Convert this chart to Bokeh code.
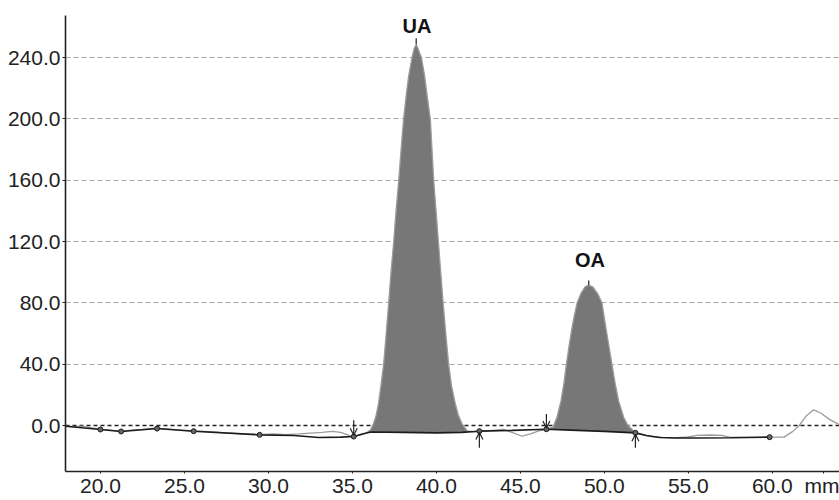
import numpy as np
from bokeh.plotting import figure
from bokeh.models import (FixedTicker, PrintfTickFormatter, Span, Arrow,
                          OpenHead, ColumnDataSource, Range1d)
from bokeh.embed import file_html
from bokeh.resources import INLINE
from bokeh.core.properties import value

# ---------------- data ----------------
signal_x = [17.95, 18.5, 19.0, 19.5, 20.0, 20.6, 21.2, 21.8, 22.5, 23.3, 24.0, 24.8,
            25.5, 26.5, 27.5, 28.5, 29.5, 30.3, 31.0, 31.8, 32.5, 33.2, 33.8, 34.3,
            34.8, 35.08, 35.4, 35.8,
            36.07, 36.25, 36.4, 36.55, 36.7, 36.86, 37.0, 37.16, 37.3, 37.46, 37.6,
            37.76, 37.9, 38.05, 38.2, 38.35, 38.55, 38.68, 38.8, 38.92, 39.0, 39.11,
            39.3, 39.45, 39.64, 39.84, 39.98, 40.12, 40.26, 40.4, 40.56, 40.73, 40.9,
            41.13, 41.3, 41.53, 41.83, 42.2, 42.56,
            43.0, 43.5, 44.0, 44.5, 45.1, 45.6, 46.1, 46.55,
            46.8, 46.95, 47.18, 47.42, 47.6, 47.74, 47.9, 48.05, 48.2, 48.38, 48.6,
            48.85, 49.07, 49.3, 49.6, 49.86, 50.0, 50.15, 50.3, 50.45, 50.65, 50.85,
            51.15, 51.4, 51.55, 51.85,
            52.3, 52.8, 53.5, 54.3, 55.0, 55.5, 56.3, 57.0, 57.5, 58.5, 59.84, 60.7,
            61.2, 61.6, 62.0, 62.46, 62.9, 63.4, 64.0]
signal_y = [-0.5, -0.8, -0.5, -1.5, -2.5, -3.0, -3.8, -3.0, -2.5, -1.8, -2.3, -3.0,
            -3.6, -4.0, -4.8, -5.5, -6.0, -5.5, -6.0, -5.5, -5.0, -4.5, -3.8, -4.5,
            -6.5, -7.2, -6.5, -5.0,
            -3.0, 1.0, 6.0, 14.0, 26.0, 40.0, 58.0, 80.0, 100.0, 120.0, 140.0,
            160.0, 180.0, 200.0, 215.0, 228.0, 240.0, 246.0, 248.5, 245.5, 243.0, 240.0,
            228.0, 215.0, 200.0, 160.0, 140.0, 120.0, 100.0, 80.0, 60.0, 40.0, 26.0,
            14.0, 7.0, 1.0, -3.5, -4.0, -3.7,
            -3.5, -3.0, -2.5, -4.5, -7.0, -5.5, -3.5, -2.4,
            -1.5, -1.0, 5.4, 16.0, 28.0, 40.0, 52.0, 62.0, 71.0, 80.0, 86.0,
            90.5, 91.5, 90.5, 86.0, 80.0, 70.0, 60.0, 50.0, 40.0, 27.0, 16.0,
            5.4, 0.0, -1.5, -4.8,
            -6.0, -7.2, -7.8, -8.0, -7.5, -6.5, -6.2, -6.5, -7.8, -7.8, -7.6, -7.6,
            -4.0, 0.0, 6.0, 10.2, 8.0, 4.0, 0.5]

baseline_x = [17.95, 20.0, 21.23, 23.37, 25.55, 29.48, 31.5, 33.0, 34.3, 35.08, 35.6,
              36.1, 38.0, 40.0, 41.5, 42.56, 44.5, 46.55, 48.0, 50.0, 51.85, 52.5,
              53.3, 54.3, 55.5, 57.5, 59.84]
baseline_y = [-0.5, -2.6, -3.9, -2.0, -3.7, -6.1, -6.5, -7.8, -7.6, -7.2, -5.5,
              -4.2, -4.5, -4.8, -4.5, -3.7, -3.2, -2.4, -3.0, -3.8, -4.8, -6.5,
              -7.8, -8.2, -8.2, -8.0, -7.6]

marker_x = [20.0, 21.23, 23.37, 25.55, 29.48, 35.08, 42.56, 46.55, 51.85, 59.84]
marker_y = [-2.6, -3.9, -2.0, -3.7, -6.1, -7.2, -3.7, -2.4, -4.8, -7.6]

peak_names = ["UA", "OA"]
peak_start = [35.08, 46.55]
peak_end = [42.56, 51.85]
peak_apex_x = [38.8, 49.07]
peak_apex_y = [248.5, 91.5]
peak_tick_top = [252.5, 94.5]
peak_label_x = [38.85, 49.15]
peak_label_y = [260.5, 108.0]

arrow_x = [35.08, 42.56, 46.55, 51.85]
arrow_tail_y = [3.5, -14.5, 7.5, -14.5]
arrow_head_y = [-6.3, -4.6, -1.6, -5.7]

x_ticks = [20.0, 25.0, 30.0, 35.0, 40.0, 45.0, 50.0, 55.0, 60.0]
unit_label = "mm"
unit_x = 63.05
y_ticks = [0.0, 40.0, 80.0, 120.0, 160.0, 200.0, 240.0]
grid_ticks = [40.0, 80.0, 120.0, 160.0, 200.0, 240.0]

FONT = "Liberation Sans"

# ---------------- figure ----------------
p = figure(width=839, height=500, output_backend="svg", toolbar_location=None,
           x_range=Range1d(17.92, 64.0), y_range=Range1d(-30.0, 267.4),
           min_border_left=65, min_border_right=0, min_border_top=15,
           min_border_bottom=29)
p.outline_line_color = None
p.background_fill_color = "white"
p.border_fill_color = "white"

# grid
p.xgrid.visible = False
p.ygrid.ticker = FixedTicker(ticks=grid_ticks)
p.ygrid.grid_line_color = "#a8a8a8"
p.ygrid.grid_line_dash = "5 3"
p.ygrid.grid_line_width = 1

zero = Span(location=y_ticks[0], dimension="width", line_color="#222222",
            line_dash="4 3", line_width=1.5, level="underlay")
p.add_layout(zero)

# axes
for ax in (p.xaxis[0], p.yaxis[0]):
    ax.axis_line_color = "#222222"
    ax.axis_line_width = 1.6
    ax.major_tick_line_color = "#222222"
    ax.minor_tick_line_color = None
    ax.major_tick_in = 0
    ax.major_tick_out = 3
    ax.major_label_text_font = FONT
    ax.major_label_text_font_size = "21px"
    ax.major_label_text_color = "#222222"
    ax.formatter = PrintfTickFormatter(format="%.1f")
p.xaxis.ticker = FixedTicker(ticks=x_ticks + [unit_x])
p.xaxis.major_label_overrides = {unit_x: unit_label}
p.xaxis.major_tick_out = 2
p.xaxis.major_label_standoff = 0
p.yaxis.ticker = FixedTicker(ticks=y_ticks)
p.yaxis.major_label_standoff = 2

# peak fills
sx = np.array(signal_x)
sy = np.array(signal_y)
for s, e in zip(peak_start, peak_end):
    m = (sx >= s) & (sx <= e)
    xs = sx[m]
    yb = np.interp(xs, baseline_x, baseline_y)
    ys = np.maximum(sy[m], yb)
    p.varea(x=xs, y1=yb, y2=ys, fill_color="#777777")

# signal trace
p.line(signal_x, signal_y, line_color="#9c9c9c", line_width=1.3)

# baseline
p.line(baseline_x, baseline_y, line_color="#1c1c1c", line_width=1.6)
p.scatter(marker_x, marker_y, size=5, marker="circle", fill_color="#666666",
          line_color="#1c1c1c", line_width=1)

# peak apex ticks
p.segment(x0=peak_apex_x, y0=peak_apex_y, x1=peak_apex_x, y1=peak_tick_top,
          line_color="#333333", line_width=1.3)

# arrows
asrc = ColumnDataSource(dict(x=arrow_x, y0=arrow_tail_y, y1=arrow_head_y))
p.add_layout(Arrow(end=OpenHead(size=7, line_color="#222222", line_width=1.2),
                   source=asrc, x_start="x", y_start="y0", x_end="x", y_end="y1",
                   line_color="#222222", line_width=1.2))

# peak labels
p.text(x=peak_label_x, y=peak_label_y, text=peak_names, text_font=value(FONT),
       text_font_style="bold", text_font_size="20px", text_align="center",
       text_baseline="middle", text_color="#111111")

open("out.html", "w").write(file_html(p, INLINE))
